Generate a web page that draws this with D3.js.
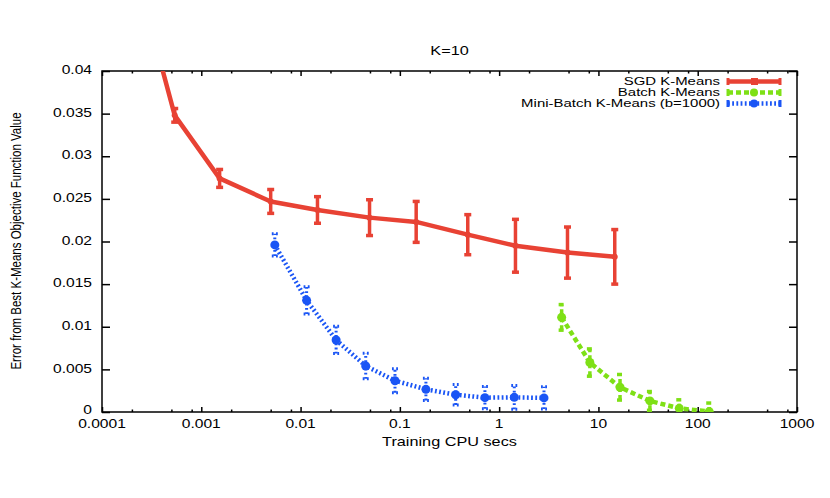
<!DOCTYPE html>
<html>
<head>
<meta charset="utf-8">
<script src="https://cdn.jsdelivr.net/npm/d3@7"></script>
<style>
  html, body { margin: 0; padding: 0; background: #fff; }
  svg { display: block; font-family: "Liberation Sans", Arial, Helvetica, sans-serif; }
</style>
</head>
<body>
<svg id="chart" width="830" height="498"></svg>
<script>
// ---------------- data ----------------
const chartTitle = "K=10";
const xLabel = "Training CPU secs";
const yLabel = "Error from Best K-Means Objective Function Value";

const xTickValues = [0.0001, 0.001, 0.01, 0.1, 1, 10, 100, 1000];
const xTickLabels = ["0.0001", "0.001", "0.01", "0.1", "1", "10", "100", "1000"];
const yTickValues = [0, 0.005, 0.01, 0.015, 0.02, 0.025, 0.03, 0.035, 0.04];
const yTickLabels = ["0", "0.005", "0.01", "0.015", "0.02", "0.025", "0.03", "0.035", "0.04"];

const seriesNames = ["SGD K-Means", "Batch K-Means", "Mini-Batch K-Means (b=1000)"];

const sgdTime = [0.00018, 0.00054, 0.00153, 0.0050, 0.0148, 0.0495, 0.146, 0.483, 1.46, 4.88, 14.6];
const sgdErr  = [0.0555, 0.0348, 0.0274, 0.0247, 0.0237, 0.0228, 0.0223, 0.0208, 0.0195, 0.0187, 0.0182];
const sgdDev  = [0.0006, 0.0008, 0.00105, 0.0014, 0.00156, 0.0021, 0.0024, 0.00235, 0.0031, 0.003, 0.0032];

const batchTime = [4.26, 8.2, 16.5, 33.0, 65.2, 130.6];
const batchErr  = [0.0111, 0.0058, 0.0029, 0.0013, 0.00043, 0.00005];
const batchDev  = [0.0015, 0.0016, 0.0015, 0.0011, 0.001, 0.001];

const mbTime = [0.0055, 0.0115, 0.0228, 0.0453, 0.0893, 0.183, 0.365, 0.719, 1.42, 2.83];
const mbErr  = [0.0196, 0.0131, 0.00845, 0.0054, 0.00367, 0.00266, 0.00203, 0.00168, 0.00172, 0.00165];
const mbDev  = [0.0013, 0.0016, 0.0016, 0.0015, 0.0014, 0.0013, 0.0012, 0.0013, 0.0014, 0.0013];

// ---------------- layout / style ----------------
const L = 102, R = 797, T = 71, B = 412;
const SX = 1.3; // horizontal stretch of text in reference
const colRed = "#e84234", colGreen = "#7ee016", colBlue = "#1a55f5";

const svg = d3.select("#chart");
const x = d3.scaleLog().domain([1e-4, 1e3]).range([L, R]);
const y = d3.scaleLinear().domain([0, 0.04]).range([B, T]);

function text(xp, yp, str, size, anchor, extra) {
  const g = svg.append("g").attr("transform", `translate(${xp},${yp}) ${extra || ""} scale(${SX},1)`);
  g.append("text").attr("x", 0).attr("y", 0).attr("font-size", size)
    .attr("text-anchor", anchor).attr("dominant-baseline", "middle").attr("fill", "#000").text(str);
  return g;
}

svg.append("defs").append("clipPath").attr("id", "clip")
  .append("rect").attr("x", L).attr("y", T).attr("width", R - L).attr("height", B - T);

// ---------------- axes ----------------
const minorX = [];
for (let e = -4; e < 3; e++) [2, 5, 8].forEach(m => minorX.push(m * Math.pow(10, e)));

const axB = d3.axisBottom(x).tickValues(xTickValues).tickSizeInner(-5).tickSizeOuter(0).tickFormat(() => "");
const axT = d3.axisTop(x).tickValues(xTickValues).tickSizeInner(-5).tickSizeOuter(0).tickFormat(() => "");
const axBm = d3.axisBottom(x).tickValues(minorX).tickSizeInner(-2.5).tickSizeOuter(0).tickFormat(() => "");
const axTm = d3.axisTop(x).tickValues(minorX).tickSizeInner(-2.5).tickSizeOuter(0).tickFormat(() => "");
const axL = d3.axisLeft(y).tickValues(yTickValues).tickSizeInner(-8).tickSizeOuter(0).tickFormat(() => "");
const axR = d3.axisRight(y).tickValues(yTickValues).tickSizeInner(-8).tickSizeOuter(0).tickFormat(() => "");

[[axB, `translate(0,${B})`], [axT, `translate(0,${T})`], [axBm, `translate(0,${B})`], [axTm, `translate(0,${T})`],
 [axL, `translate(${L},0)`], [axR, `translate(${R},0)`]].forEach(([a, tr]) => {
  const g = svg.append("g").attr("transform", tr).call(a);
  g.select(".domain").remove();
  g.selectAll("line").attr("stroke", "#000").attr("stroke-width", 1.5);
});

svg.append("rect").attr("x", L).attr("y", T).attr("width", R - L).attr("height", B - T)
  .attr("fill", "none").attr("stroke", "#000").attr("stroke-width", 1.5);

xTickValues.forEach((v, i) => text(x(v), 424.5, xTickLabels[i], 12, "middle"));
yTickValues.forEach((v, i) => text(92, y(v) - (v === 0 ? 1 : 0), yTickLabels[i], 12, "end"));

text((L + R) / 2, 52, chartTitle, 12.5, "middle");
text((L + R) / 2, 443, xLabel, 12.5, "middle");
svg.append("g").attr("transform", `translate(17,241) rotate(-90) scale(1,${SX})`)
  .append("text").attr("font-size", 11.5).attr("text-anchor", "middle")
  .attr("dominant-baseline", "middle").text(yLabel);

// ---------------- series ----------------
const plot = svg.append("g").attr("clip-path", "url(#clip)");
const line = d3.line().x(d => x(d[0])).y(d => y(d[1]));

function series(times, vals, devs, color, dash, lw, ebw, cap, r) {
  const pts = times.map((t, i) => [t, vals[i], devs[i]]);
  const g = plot.append("g");
  pts.forEach(p => {
    const cx = x(p[0]), y0 = y(p[1] - p[2]), y1 = y(p[1] + p[2]);
    const seg = [[cx, y0, cx, y1], [cx - cap, y0, cx + cap, y0], [cx - cap, y1, cx + cap, y1]];
    seg.forEach(s => g.append("line").attr("x1", s[0]).attr("y1", s[1]).attr("x2", s[2]).attr("y2", s[3])
      .attr("stroke", color).attr("stroke-width", ebw).attr("stroke-dasharray", dash || null));
  });
  g.append("path").datum(pts).attr("d", line).attr("fill", "none").attr("stroke", color)
    .attr("stroke-width", lw).attr("stroke-dasharray", dash || null).attr("stroke-linejoin", "round");
  g.selectAll("circle").data(pts).join("circle").attr("cx", d => x(d[0])).attr("cy", d => y(d[1]))
    .attr("r", r).attr("fill", color);
}

series(sgdTime, sgdErr, sgdDev, colRed, null, 4.5, 3.5, 3.5, 3);
series(batchTime, batchErr, batchDev, colGreen, "5,3", 4.5, 3.5, 3, 4.5);
series(mbTime, mbErr, mbDev, colBlue, "1.8,2.4", 4.5, 3, 3, 4.5);

// ---------------- legend ----------------
const legRows = [81.5, 92.5, 103.5];
const legStyles = [[colRed, null, 3], [colGreen, "5,3", 4], [colBlue, "1.8,2.4", 4]];
seriesNames.forEach((name, i) => {
  const ly = legRows[i];
  text(720, ly, name, 11.5, "end");
  const [c, dash, mr] = legStyles[i];
  const g = svg.append("g");
  g.append("line").attr("x1", 728).attr("x2", 780).attr("y1", ly).attr("y2", ly)
    .attr("stroke", c).attr("stroke-width", 4.5).attr("stroke-dasharray", dash || null);
  [728, 780].forEach(ex => g.append("line").attr("x1", ex).attr("x2", ex).attr("y1", ly - 3.5).attr("y2", ly + 3.5)
    .attr("stroke", c).attr("stroke-width", 3));
  if (i === 0) g.append("rect").attr("x", 751).attr("y", ly - 3.5).attr("width", 7).attr("height", 7).attr("fill", c);
  else g.append("circle").attr("cx", 754).attr("cy", ly).attr("r", mr).attr("fill", c);
});
</script>
</body>
</html>
